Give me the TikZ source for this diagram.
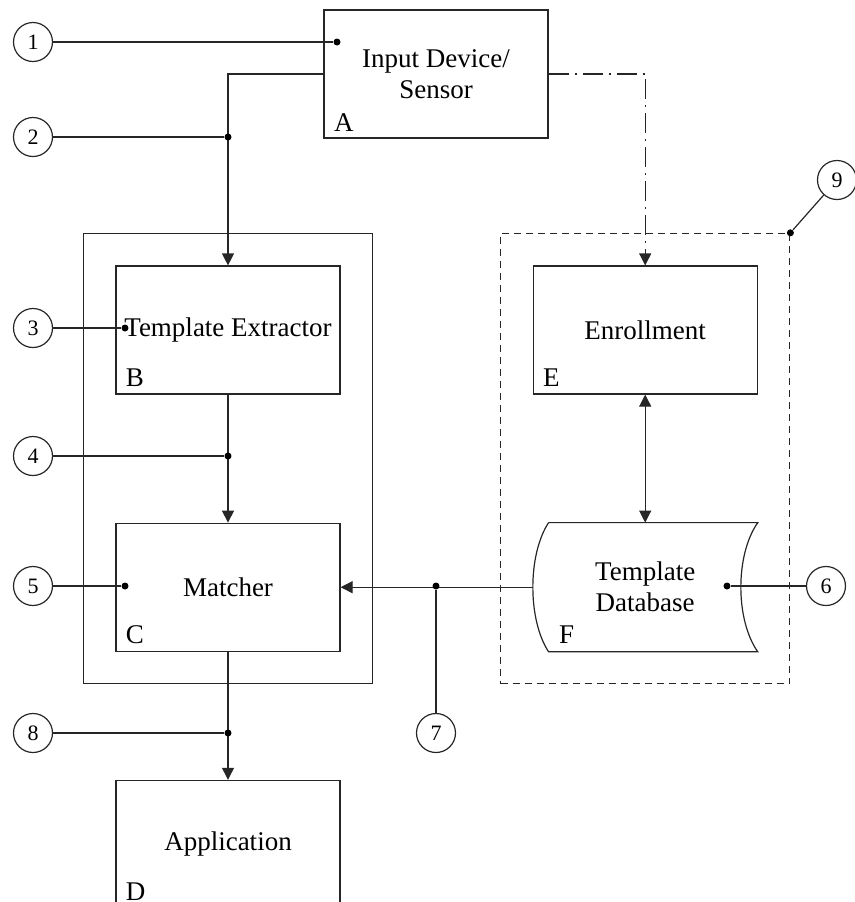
\documentclass[tikz,border=0pt]{standalone}
\usepackage{fontspec}
\setmainfont{Liberation Serif}
\usetikzlibrary{arrows.meta, positioning, fit, calc}

\begin{document}
\begin{tikzpicture}[
    x=0.5pt, y=-0.5pt, line width=0.6pt, draw=black!85,
    block/.style={
      rectangle, draw=black!85, minimum width=112pt, minimum height=64pt,
      inner sep=0pt, align=center, font=\fontsize{13.5}{15.5}\selectfont
    },
    tag/.style={anchor=base west, inner sep=0pt, font=\fontsize{13.5}{15.5}\selectfont},
    callout/.style={circle, draw=black!85, minimum size=19.5pt, inner sep=0pt, font=\fontsize{11}{12}\selectfont},
    dot/.style={circle, fill=black, inner sep=0pt, minimum size=3.5pt},
    group/.style={rectangle, draw=black!85, inner sep=16pt},
    arr/.style={-{Triangle[length=6pt, width=6pt]}}
  ]
    \clip (0,0) rectangle (855,902);

    \node[block] (A) at (436,74) {Input Device/\\Sensor};
    \node[block] (B) at (228,330) {Template Extractor};
    \node[block, below=64pt of B] (C) {Matcher};
    \node[block, below=64pt of C] (D) {Application};
    \node[block, right=96pt of B] (E) {Enrollment};
    \node[block, draw=none, below=64pt of E] (F) {Template\\Database};

    \draw ([xshift=8pt]F.north west) -- (F.north east)
      .. controls ([xshift=-11.3pt,yshift=-16pt]F.north east) and ([xshift=-11.3pt,yshift=16pt]F.south east) .. (F.south east)
      -- ([xshift=8pt]F.south west)
      .. controls ([xshift=-2.5pt,yshift=16pt]F.south west) and ([xshift=-2.5pt,yshift=-16pt]F.north west) .. ([xshift=8pt]F.north west);

    \node[tag] (tA) at ([xshift=5pt,yshift=3.5pt]A.south west) {A};
    \node[tag] (tB) at ([xshift=5pt,yshift=4pt]B.south west) {B};
    \node[tag] (tC) at ([xshift=5pt,yshift=4pt]C.south west) {C};
    \node[tag] (tD) at ([xshift=5pt,yshift=4.5pt]D.south west) {D};
    \node[tag] (tE) at ([xshift=5pt,yshift=4pt]E.south west) {E};
    \node[tag] (tF) at ([xshift=13pt,yshift=4pt]F.south west) {F};

    \node[group, fit=(B)(C)] (core) {};
    \node[group, dash pattern=on 3.5pt off 2.5pt, fit=(E)(F)] (store) {};

    \draw[arr] (A.west) -| (B.north);
    \draw[arr] (B) -- (C);
    \draw[arr] (C) -- (D);
    \draw[arr, dash pattern=on 10pt off 3pt on 1pt off 3pt] (A.east) -| (E.north);
    \draw[{Triangle[length=6pt, width=6pt]}-{Triangle[length=6pt, width=6pt]}] (E) -- (F);
    \draw[arr] (F.west) -- (C.east);

    \node[callout] (n1) at (33,42) {1};
    \node[callout] (n2) at (33,137) {2};
    \node[callout] (n3) at (33,328) {3};
    \node[callout] (n4) at (33,456) {4};
    \node[callout] (n5) at (33,586) {5};
    \node[callout] (n6) at (826,586) {6};
    \node[callout] (n7) at (436,733) {7};
    \node[callout] (n8) at (33,733) {8};
    \node[callout] (n9) at (837,180) {9};

    \node[dot] (p1) at (337,42) {};
    \node[dot] (p2) at (228,137) {};
    \node[dot] (p3) at (125,328) {};
    \node[dot] (p4) at (228,456) {};
    \node[dot] (p5) at (125,586) {};
    \node[dot] (p6) at (727,586) {};
    \node[dot] (p7) at (436,586) {};
    \node[dot] (p8) at (228,733) {};
    \node[dot] (p9) at (store.north east) {};

    \draw (n1) -- (p1);
    \draw (n2) -- (p2);
    \draw (n3) -- (p3);
    \draw (n4) -- (p4);
    \draw (n5) -- (p5);
    \draw (n6) -- (p6);
    \draw (n7) -- (p7);
    \draw (n8) -- (p8);
    \draw (n9) -- (p9);
  \end{tikzpicture}
\end{document}
